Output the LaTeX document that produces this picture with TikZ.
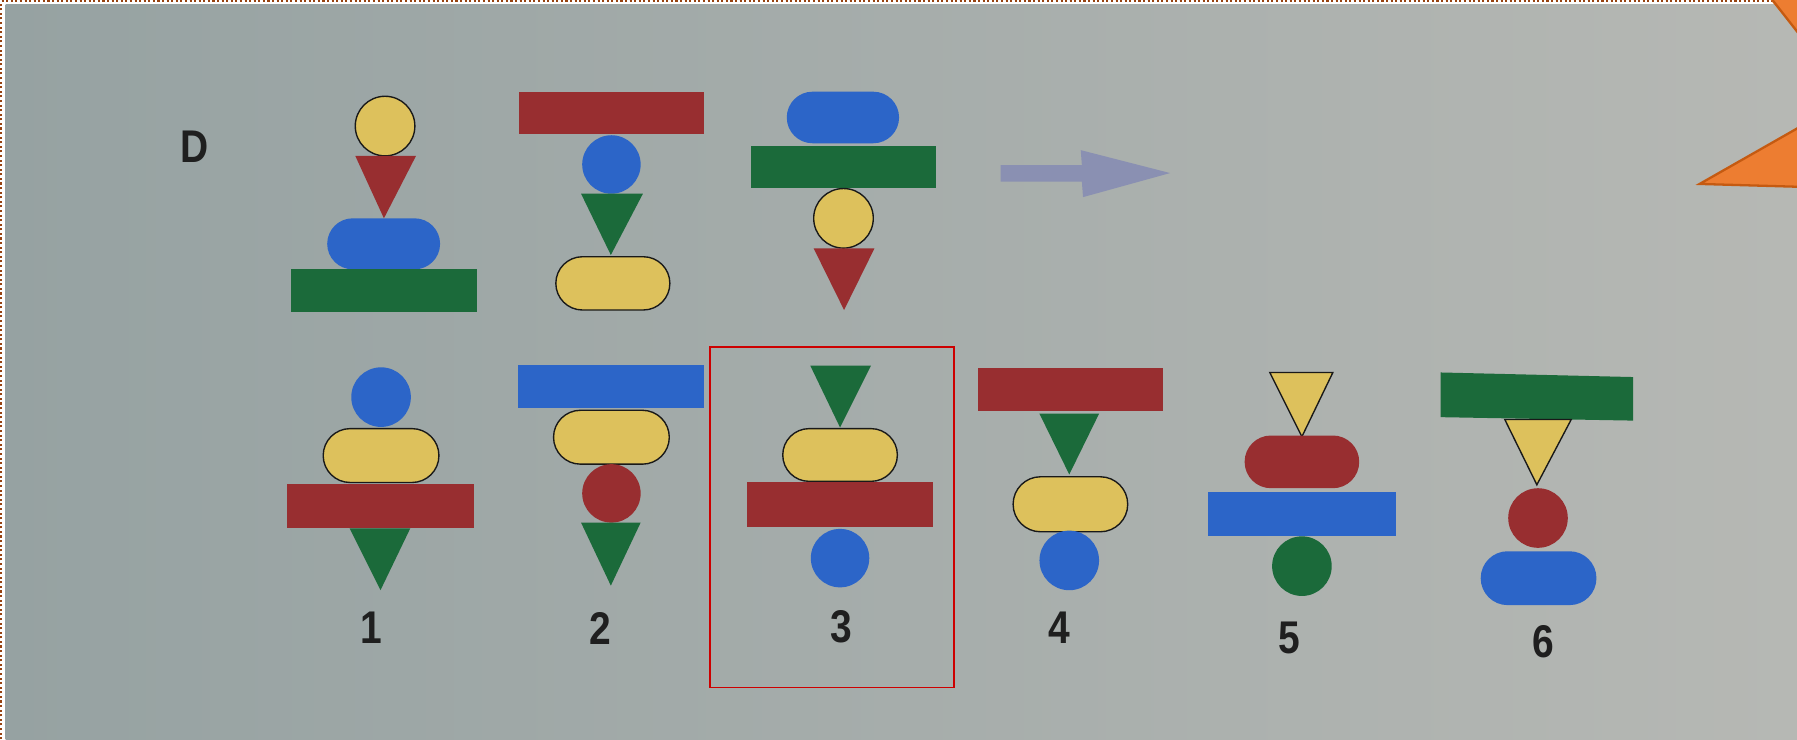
\documentclass[tikz,border=0pt]{standalone}
\usepackage{fontspec}
\setmainfont{Liberation Sans}
\definecolor{cY}{RGB}{221,193,92}
\definecolor{cR}{RGB}{152,46,48}
\definecolor{cB}{RGB}{44,101,200}
\definecolor{cG}{RGB}{27,106,58}
\definecolor{cArrow}{RGB}{138,144,178}
\definecolor{cOr}{RGB}{237,125,49}
\definecolor{cOrD}{RGB}{197,90,17}
\definecolor{bgL}{RGB}{150,162,162}
\definecolor{bgM}{RGB}{170,180,178}
\definecolor{bgR}{RGB}{182,184,180}
\definecolor{dotc}{RGB}{150,65,15}
\definecolor{boxred}{RGB}{205,0,0}
\newcommand\PRect[5]{\path[#5] (#1,#2) rectangle (#3,#4);}
\newcommand\PPill[5]{\pgfmathsetmacro\prad{(#4-#2)/2-0.01}\path[#5,rounded corners=\prad pt] (#1,#2) rectangle (#3,#4);}
\newcommand\PTri[6]{\path[#6] (#1,#3) -- (#2,#3) -- (#4,#5) -- cycle;}
\newcommand\PCirc[4]{\path[#4] (#1,#2) circle (#3pt);}
\tikzset{
  ylw/.style={fill=cY,draw=black!90,line width=1.2pt},
  red/.style={fill=cR},
  blu/.style={fill=cB},
  grn/.style={fill=cG},
  lbl/.style={font=\fontsize{40}{40}\selectfont\bfseries,inner sep=0pt,text=black!88,xscale=0.85},
}
\begin{document}
\begin{tikzpicture}[x=1pt,y=-1pt]
\useasboundingbox (0,0) rectangle (1568,645);
\begin{scope}
\clip (0,0) rectangle (1568,645);
% background photo
\fill[white] (0,0) rectangle (1568,645);
\shade[left color=bgL,middle color=bgM,right color=bgR] (5,4) rectangle (1568,645);
\draw[dotc,line width=1.8pt,dash pattern=on 1.8pt off 2.2pt] (1.2,645) -- (1.2,1.2) -- (1568,1.2);

% label D
\node[lbl] (D) at (169.5,128) {D};

% ---- top row, figure A
\PCirc{336}{110}{26}{ylw}
\PTri{310}{363}{136}{335}{190.5}{red}
\PPill{285.5}{190.5}{384}{235}{blu}
\PRect{254}{235}{416}{272}{grn}

% ---- figure B
\PRect{453}{80}{614}{116.5}{red}
\PCirc{533.5}{143.5}{25.5}{blu}
\PTri{507}{561}{169}{533}{222.5}{grn}
\PPill{485}{224}{584.5}{270.5}{ylw}

% ---- figure C
\PPill{686.5}{80}{784.5}{125}{blu}
\PRect{655}{127}{817}{164}{grn}
\PCirc{736}{190.5}{26}{ylw}
\PTri{710}{763}{216.8}{736.5}{270.5}{red}

% arrow
\fill[cArrow] (873,144) -- (944,144) -- (943,131) -- (1021,151) -- (945,172) -- (944,158.5) -- (873,158.5) -- cycle;

% ---- option 1
\PCirc{332.5}{346.5}{26}{blu}
\PPill{282}{374}{383}{421}{ylw}
\PRect{250}{422}{414}{461}{red}
\PTri{305}{358}{461}{332}{515}{grn}
\node[lbl] (n1) at (324,548) {1};

% ---- option 2
\PRect{452}{318.5}{614}{356}{blu}
\PPill{483}{358}{584}{405}{ylw}
\PCirc{533.5}{430.5}{25.5}{red}
\PTri{507}{559}{456}{533}{511}{grn}
\node[lbl] (n2) at (524,548) {2};

% ---- option 3
\PTri{707}{760}{319}{733}{373}{grn}
\PPill{683}{374}{783}{420}{ylw}
\PRect{652}{421}{814}{460}{red}
\PCirc{733}{487}{25.5}{blu}
\node[lbl] (n3) at (734,547) {3};

% ---- option 4
\PRect{853}{321}{1015}{359}{red}
\PTri{907}{959}{361}{933}{414}{grn}
\PPill{884}{416}{984}{464}{ylw}
\PCirc{933}{489}{26}{blu}
\node[lbl] (n4) at (924,548) {4};

% ---- option 5
\PTri{1108}{1163}{325}{1136}{381}{ylw}
\PPill{1086}{380}{1186}{426}{red}
\PRect{1054}{429}{1218}{468}{blu}
\path[grn] (1136,494) circle[x radius=26pt,y radius=26pt];
\node[lbl] (n5) at (1125,557) {5};

% ---- option 6
\fill[cG] (1257,325) -- (1425,329) -- (1425,367) -- (1257,364) -- cycle;
\PTri{1313}{1371}{366}{1341}{423}{ylw}
\PCirc{1342}{452}{26}{red}
\PPill{1292}{481}{1393}{528}{blu}
\node[lbl] (n6) at (1347,560) {6};

% answer box
\draw[boxred,line width=1.5pt] (619.5,303) rectangle (832.5,600);

% orange shape pieces at right edge
\fill[cOr] (1545,0) -- (1570,30) -- (1570,0) -- cycle;
\draw[cOrD,line width=2pt] (1545,-2) -- (1570,30);
\fill[cOr] (1483,160.5) -- (1570,111) -- (1570,163) -- cycle;
\draw[cOrD,line width=2pt,line join=miter] (1570,111) -- (1483,160.5) -- (1570,163);
\end{scope}
\end{tikzpicture}
\end{document}
